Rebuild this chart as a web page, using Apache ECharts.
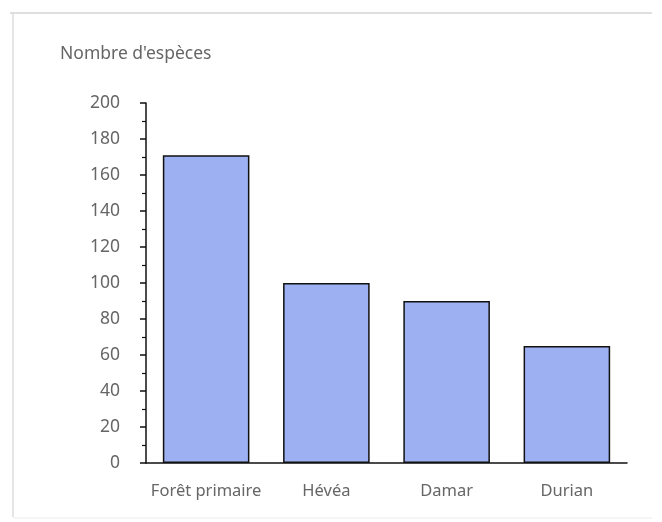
<!DOCTYPE html>
<html>
<head>
<meta charset="utf-8">
<script src="https://cdn.jsdelivr.net/npm/echarts@6/dist/echarts.min.js"></script>
<style>
  html, body { margin: 0; padding: 0; background: #ffffff; }
  #chart { width: 662px; height: 522px; }
</style>
</head>
<body>
<div id="chart"></div>
<script>
// Species richness per land-use type
const categories = ['Forêt primaire', 'Hévéa', 'Damar', 'Durian'];
const speciesCount = [171, 100, 90, 65];
const yTitle = "Nombre d'espèces";

const chart = echarts.init(document.getElementById('chart'), null, { renderer: 'canvas' });

const labelFont = '"Noto Sans", "DejaVu Sans", sans-serif';

chart.setOption({
  backgroundColor: '#ffffff',
  animation: false,
  graphic: [
    // light frame around the figure
    { type: 'line', shape: { x1: 10, y1: 13, x2: 652, y2: 13 }, style: { stroke: '#d4d4d4', lineWidth: 1.5 } },
    { type: 'line', shape: { x1: 13, y1: 13, x2: 13, y2: 517 }, style: { stroke: '#dcdcdc', lineWidth: 1.5 } },
    { type: 'line', shape: { x1: 13, y1: 518, x2: 652, y2: 518 }, style: { stroke: '#ececec', lineWidth: 1 } },
    { type: 'text', left: 60, top: 45, style: { text: yTitle, fontFamily: labelFont, fontSize: 17.5, fill: '#666666' } }
  ],
  grid: { left: 146, right: 35, top: 103, bottom: 59 },
  xAxis: {
    type: 'category',
    data: categories,
    axisLine: { lineStyle: { color: '#111111', width: 1.5 } },
    axisTick: { show: false },
    axisLabel: { interval: 0, color: '#666666', fontFamily: labelFont, fontSize: 16.5, margin: 20 }
  },
  yAxis: {
    type: 'value',
    min: 0,
    max: 200,
    interval: 20,
    axisLine: { show: true, lineStyle: { color: '#111111', width: 1.5 } },
    axisTick: { show: true, length: 6, lineStyle: { color: '#111111', width: 1.5 } },
    minorTick: { show: true, splitNumber: 2, length: 4, lineStyle: { color: '#111111', width: 1.2 } },
    splitLine: { show: false },
    axisLabel: { color: '#666666', fontFamily: labelFont, fontSize: 17.5, margin: 26 }
  },
  series: [{
    type: 'bar',
    data: speciesCount,
    barWidth: '72%',
    itemStyle: { color: '#9db0f1', borderColor: '#111111', borderWidth: 1.5 }
  }]
});
</script>
</body>
</html>
